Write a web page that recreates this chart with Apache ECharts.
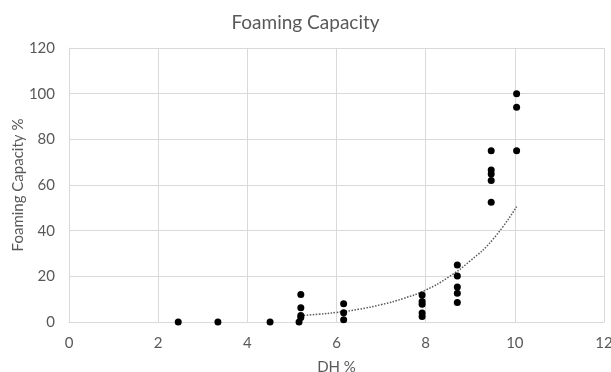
<!DOCTYPE html>
<html>
<head>
<meta charset="utf-8">
<script src="https://cdn.jsdelivr.net/npm/echarts@6/dist/echarts.min.js"></script>
<style>
  html, body { margin: 0; padding: 0; background: #fff; }
  #chart { width: 611px; height: 372px; }
</style>
</head>
<body>
<div id="chart"></div>
<script>
// measured points (DH %, foaming capacity %)
var dhValues = [2.45, 3.34, 4.51,
  5.16, 5.2, 5.2, 5.2, 5.2,
  6.16, 6.16, 6.16,
  7.92, 7.92, 7.92, 7.92, 7.92,
  8.71, 8.71, 8.71, 8.71, 8.71,
  9.47, 9.47, 9.47, 9.47, 9.47,
  10.04, 10.04, 10.04];
var foamValues = [0, 0, 0,
  0, 2.0, 2.8, 6.2, 12.0,
  1.0, 4.1, 8.0,
  2.4, 3.9, 7.8, 9.0, 11.8,
  8.5, 12.6, 15.3, 20.1, 25.0,
  52.5, 62.0, 64.8, 66.6, 75.0,
  75.0, 94.0, 100.0];

// dotted trend line
var trendX = [5.2, 5.6, 6, 6.5, 7, 7.5, 8, 8.5, 9, 9.5, 10.04];
var trendY = [2.8, 3.4, 4.2, 5.6, 7.6, 10.3, 14.0, 19.5, 26.8, 36.0, 50.5];

var xTicks = [0, 2, 4, 6, 8, 10, 12];
var yTicks = [0, 20, 40, 60, 80, 100, 120];

var points = dhValues.map(function (x, i) { return [x, foamValues[i]]; });
var trend = trendX.map(function (x, i) { return [x, trendY[i]]; });

var textColor = '#595959';
var gridColor = '#d9d9d9';
var font = 'Lato, "Open Sans", sans-serif';

var chart = echarts.init(document.getElementById('chart'));
chart.setOption({
  animation: false,
  title: {
    text: 'Foaming Capacity',
    left: 'center',
    top: 8,
    textStyle: { fontFamily: font, fontSize: 19, fontWeight: 'normal', color: textColor }
  },
  grid: { left: 69, right: 7, top: 48, bottom: 50, outerBoundsMode: 'none', containLabel: false },
  xAxis: {
    type: 'value',
    min: xTicks[0],
    max: xTicks[xTicks.length - 1],
    interval: 2,
    name: 'DH %',
    nameLocation: 'middle',
    nameGap: 38,
    nameMoveOverlap: false,
    nameTextStyle: { fontFamily: font, fontSize: 15, color: textColor },
    axisLine: { show: true, lineStyle: { color: gridColor } },
    axisTick: { show: false },
    axisLabel: { fontFamily: font, fontSize: 15, color: textColor, margin: 14 },
    splitLine: { show: true, lineStyle: { color: gridColor } }
  },
  yAxis: {
    type: 'value',
    min: yTicks[0],
    max: yTicks[yTicks.length - 1],
    interval: 20,
    name: 'Foaming Capacity %',
    nameLocation: 'middle',
    nameGap: 43,
    nameMoveOverlap: false,
    nameTextStyle: { fontFamily: font, fontSize: 15, color: textColor },
    axisLine: { show: true, lineStyle: { color: gridColor } },
    axisTick: { show: false },
    axisLabel: { fontFamily: font, fontSize: 15, color: textColor, margin: 14 },
    splitLine: { show: true, lineStyle: { color: gridColor } }
  },
  series: [
    {
      name: 'trend',
      type: 'line',
      data: trend,
      smooth: true,
      symbol: 'none',
      lineStyle: { color: '#595959', width: 1.5, type: [1.5, 1.5] },
      z: 1
    },
    {
      name: 'Foaming Capacity',
      type: 'scatter',
      data: points,
      symbol: 'circle',
      symbolSize: 7,
      itemStyle: { color: '#000', opacity: 1 },
      z: 3
    }
  ]
});
</script>
</body>
</html>
